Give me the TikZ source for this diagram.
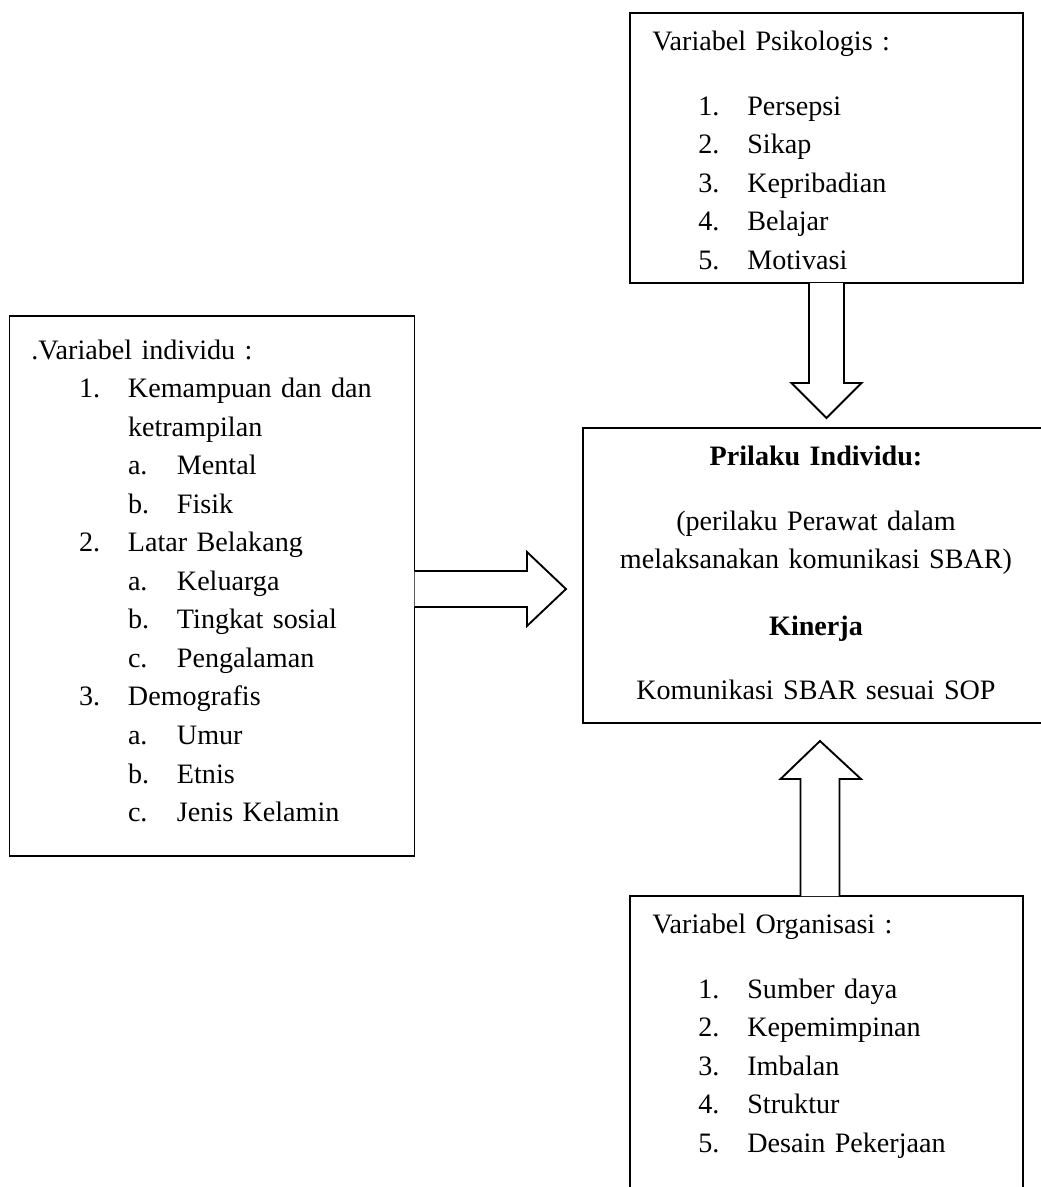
\documentclass[tikz,border=0pt]{standalone}
\usepackage{fontspec}
\setmainfont{Liberation Serif}
\usetikzlibrary{calc}

\newcommand{\butir}[3]{\hspace*{#1}\makebox[20.9pt][l]{#2}#3}

\begin{document}
\begin{tikzpicture}[x=0.015cm,y=-0.015cm,kotak/.style={draw,line width=0.8pt,rectangle,inner sep=0pt,outer sep=0pt},isi/.style={anchor=base west,inner sep=0pt,align=left,font=\fontsize{12}{16.45}\selectfont},panah/.style={draw,line width=0.8pt,fill=white,line join=miter}]
    \clip (0,0) rectangle (1041,1187);

    % kotak
    \node[kotak,minimum width=5.895cm,minimum height=4.05cm] (psi) at (826.5,148) {};
    \node[kotak,minimum width=6.075cm,minimum height=8.1cm] (ind) at (212,586) {};
    \node[kotak,minimum width=6.99cm,minimum height=4.425cm] (mid) at (816,575.5) {};
    \node[kotak,minimum width=5.895cm,minimum height=4.56cm] (org) at (826.5,1048) {};

    % isi kotak
    \node[isi,text width=5cm] (psiisi) at (652,50) {Variabel Psikologis :\\[11.3pt]
        \butir{19.6pt}{1.}{Persepsi}\\
        \butir{19.6pt}{2.}{Sikap}\\
        \butir{19.6pt}{3.}{Kepribadian}\\
        \butir{19.6pt}{4.}{Belajar}\\
        \butir{19.6pt}{5.}{Motivasi}};
    \node[isi,text width=5.8cm] (indisi) at (31,359) {.Variabel individu :\\
        \butir{20.3pt}{1.}{Kemampuan dan dan}\\
        \hspace*{41.2pt}ketrampilan\\
        \butir{41.2pt}{a.}{Mental}\\
        \butir{41.2pt}{b.}{Fisik}\\
        \butir{20.3pt}{2.}{Latar Belakang}\\
        \butir{41.2pt}{a.}{Keluarga}\\
        \butir{41.2pt}{b.}{Tingkat sosial}\\
        \butir{41.2pt}{c.}{Pengalaman}\\
        \butir{20.3pt}{3.}{Demografis}\\
        \butir{41.2pt}{a.}{Umur}\\
        \butir{41.2pt}{b.}{Etnis}\\
        \butir{41.2pt}{c.}{Jenis Kelamin}};
    \node[isi,anchor=base,align=center,text width=6.8cm] (midisi) at (816,465) {\textbf{Prilaku Individu:}\\[11.3pt]
        (perilaku Perawat dalam\\
        melaksanakan komunikasi SBAR)\\[12.1pt]
        \textbf{Kinerja}\\[10.9pt]
        Komunikasi SBAR sesuai SOP};
    \node[isi,text width=5cm] (orgisi) at (652,933) {Variabel Organisasi :\\[11.3pt]
        \butir{19.6pt}{1.}{Sumber daya}\\
        \butir{19.6pt}{2.}{Kepemimpinan}\\
        \butir{19.6pt}{3.}{Imbalan}\\
        \butir{19.6pt}{4.}{Struktur}\\
        \butir{19.6pt}{5.}{Desain Pekerjaan}};

    % panah blok
    \draw[panah] ($(psi.south)+(-17.5,0)$) -- ($(psi.south |- mid.north)+(-17.5,-45)$) -- ++(-17.5,0) -- ($(psi.south |- mid.north)+(0,-10)$) -- ++(35,-35) -- ++(-17.5,0) -- ($(psi.south)+(17.5,0)$);
    \draw[panah] ($(ind.east)+(0,-15)$) -- ($(ind.east -| mid.west)+(-56,-15)$) -- ++(0,-19) -- ($(ind.east -| mid.west)+(-17,3)$) -- ++(-39,37) -- ++(0,-19) -- ($(ind.east)+(0,21)$);
    \draw[panah] ($(org.north)+(-26,0)$) -- ($(org.north |- mid.south)+(-26,56)$) -- ++(-20,0) -- ($(org.north |- mid.south)+(-6.5,18)$) -- ++(41,38) -- ++(-21.5,0) -- ($(org.north)+(13,0)$);
\end{tikzpicture}
\end{document}
